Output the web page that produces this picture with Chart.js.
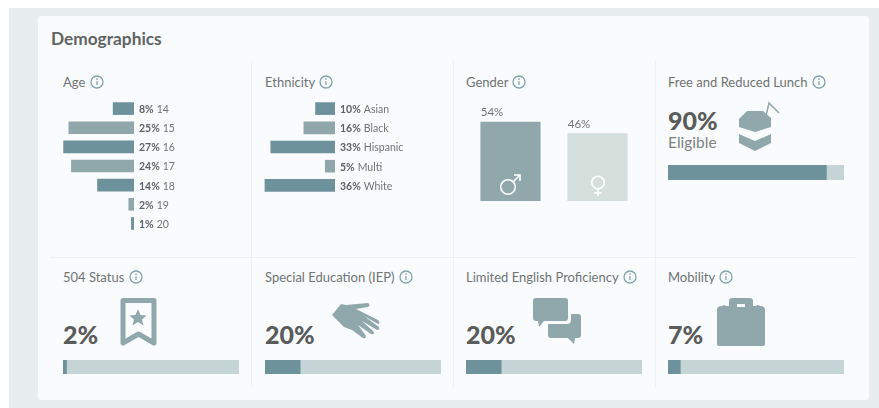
<!DOCTYPE html>
<html>
<head>
<meta charset="utf-8">
<script src="https://cdn.jsdelivr.net/npm/chart.js@4"></script>
<style>
html, body { margin: 0; padding: 0; background: #fff; }
body { width: 879px; height: 408px; overflow: hidden; position: relative; font-family: Lato, sans-serif; color: #6f7475; }
#bg { position: absolute; left: 9px; top: 8px; right: 0; bottom: 0; background: #e8edef; }
#card { position: absolute; left: 38px; top: 16px; width: 831px; height: 384px; background: #fafbfd; border-radius: 3px; }
.abs { position: absolute; }
.line { position: absolute; background: #eef0f3; }
h1 { position: absolute; left: 51px; top: 29px; margin: 0; font-size: 17.3px; line-height: 20px; font-weight: 700; color: #5f6364; }
.title { position: absolute; font-size: 13px; line-height: 16px; white-space: nowrap; }
.title svg { display: inline-block; vertical-align: -1.5px; margin-left: 1px; }
.big { position: absolute; font-size: 25px; line-height: 30px; font-weight: 900; color: #5a5c5c; }
.sub { position: absolute; font-size: 15.5px; line-height: 18px; color: #7d8283; }
canvas { position: absolute; }
</style>
</head>
<body>
<div id="bg"></div>
<div id="card"></div>
<div class="line" style="left:251px;top:61px;width:1px;height:326px"></div>
<div class="line" style="left:453px;top:61px;width:1px;height:326px"></div>
<div class="line" style="left:655px;top:61px;width:1px;height:326px"></div>
<div class="line" style="left:50px;top:257px;width:806px;height:1px"></div>
<h1>Demographics</h1>
<div id="titles"></div>

<canvas id="ageChart" style="left:52px;top:99px;width:198px;height:134px"></canvas>
<canvas id="ethnicityChart" style="left:254px;top:99px;width:198px;height:96px"></canvas>
<canvas id="genderChart" style="left:456px;top:100px;width:196px;height:101px"></canvas>
<canvas id="lunchChart" style="left:668px;top:165px;width:176px;height:15px"></canvas>
<canvas id="statusChart" style="left:63px;top:360px;width:176px;height:14px"></canvas>
<canvas id="iepChart" style="left:265px;top:360px;width:176px;height:14px"></canvas>
<canvas id="lepChart" style="left:466px;top:360px;width:176px;height:14px"></canvas>
<canvas id="mobilityChart" style="left:668px;top:360px;width:176px;height:14px"></canvas>

<div class="big" style="left:668px;top:105px">90%</div>
<div class="sub" style="left:668px;top:133px">Eligible</div>
<div class="big" style="left:63px;top:319px">2%</div>
<div class="big" style="left:265px;top:319px">20%</div>
<div class="big" style="left:466px;top:319px">20%</div>
<div class="big" style="left:668px;top:319px">7%</div>

<!-- gender glyphs -->
<svg class="abs" style="left:498px;top:172px" width="26" height="24" viewBox="0 0 26 24" fill="none" stroke="#fff" stroke-width="1.6">
  <circle cx="10" cy="15" r="7.3"/><path d="M15.5 9.5 L22 3 M16 3 H22 V9"/>
</svg>
<svg class="abs" style="left:589px;top:175px" width="18" height="24" viewBox="0 0 18 24" fill="none" stroke="#fff" stroke-width="1.6">
  <circle cx="9" cy="7.5" r="6.2"/><path d="M9 13.5 V21 M5 18 H13"/>
</svg>
<!-- juice box -->
<svg class="abs" style="left:735px;top:100px" width="46" height="52" viewBox="0 0 46 52" fill="#90a8ac">
  <path d="M12 11 H28 L36 18 V27 L20 32 L4 27 V19 Z"/>
  <path d="M4 34 L20 41 L36 34 V43 L20 51 L4 43 Z"/>
  <path d="M31 16 L34 3 L44 13" fill="none" stroke="#90a8ac" stroke-width="1.5"/>
</svg>
<!-- bookmark -->
<svg class="abs" style="left:120px;top:297px" width="37" height="50" viewBox="0 0 37 50">
  <path d="M3 3.5 H34 V46 L18.5 37 L3 46 Z" fill="none" stroke="#90a8ac" stroke-width="5" stroke-linejoin="round"/>
  <path d="M18 12 L20.5 18 L26.5 18.5 L22 22.5 L23.5 28.5 L18 25 L12.5 28.5 L14 22.5 L9.5 18.5 L15.5 18 Z" fill="#90a8ac"/>
</svg>
<!-- hand -->
<svg class="abs" style="left:332px;top:303px" width="50" height="38" viewBox="0 0 50 38" fill="#90a8ac">
  <path d="M0 12 L9 1 L14 2 L36 0 Q39 2 36 4 L24 6 L46 17 Q49 20 46 21 L32 13 L47 24 Q48 27 45 27 L30 18 L42 29 Q42 32 39 31 L26 22 L34 33 Q34 36 31 35 L20 27 L12 24 Z"/>
</svg>
<!-- speech bubbles -->
<svg class="abs" style="left:532px;top:297px" width="50" height="50" viewBox="0 0 50 50" fill="#90a8ac">
  <path d="M4 1 H33 Q36 1 36 4 V21 Q36 24 33 24 H12 L7 30 L6 24 H4 Q1 24 1 21 V4 Q1 1 4 1 Z"/>
  <path d="M39 17 H46 Q49 17 49 20 V38 Q49 41 46 41 H43 L42 47 L36 41 H19 Q16 41 16 38 V27 H35 Q39 27 39 23 Z"/>
</svg>
<!-- briefcase -->
<svg class="abs" style="left:717px;top:298px" width="48" height="49" viewBox="0 0 48 49" fill="#90a8ac">
  <path fill-rule="evenodd" d="M15 0 H33 Q36 0 36 3 V8 H39 Q41 6 43 8 Q48 8 48 12 V46 Q48 48 45 48 H3 Q0 48 0 46 V12 Q0 8 5 8 Q7 6 9 8 H12 V3 Q12 0 15 0 Z M20 6 V9 H28 V6 Z"/>
</svg>

<script>
// values
const ageLabels = ['14', '15', '16', '17', '18', '19', '20'];
const ageValues = [8, 25, 27, 24, 14, 2, 1];
const ethnicityLabels = ['Asian', 'Black', 'Hispanic', 'Multi', 'White'];
const ethnicityValues = [10, 16, 33, 5, 36];
const genderLabels = ['Male', 'Female'];
const genderValues = [54, 46];
const lunchValue = 90;
const statusValue = 2;
const iepValue = 20;
const lepValue = 20;
const mobilityValue = 7;

const DARK = '#6e929b';
const LIGHT = '#90a8ac';
const PALE = '#d5e0dc';
const TRACK = '#c5d5d5';
const TEXT = '#6f7475';
const FONT = 'Lato, sans-serif';

// panel titles with the little info icon
const panelTitles = [
    ['Age', 63, 74],
    ['Ethnicity', 265, 74],
    ['Gender', 466, 74],
    ['Free and Reduced Lunch', 668, 74],
    ['504 Status', 63, 269],
    ['Special Education (IEP)', 265, 269],
    ['Limited English Proficiency', 466, 269],
    ['Mobility', 668, 269]
];
const infoIcon = '<svg width="14" height="14" viewBox="0 0 14 14" fill="none" stroke="#7fa3ab" stroke-width="1.3"><circle cx="7" cy="7" r="6"/><path d="M7 6.2V10M7 3.6V5"/></svg>';
document.getElementById('titles').innerHTML = panelTitles.map(t =>
    `<div class="title" style="left:${t[1]}px;top:${t[2]}px">${t[0]} ${infoIcon}</div>`).join('');

// "8% 14" style labels to the right of each bar
const sideLabels = {
    id: 'sideLabels',
    afterDatasetsDraw(chart) {
        const ctx = chart.ctx;
        const meta = chart.getDatasetMeta(0);
        const x0 = chart.chartArea.right + 5;
        ctx.save();
        ctx.textBaseline = 'middle';
        meta.data.forEach((bar, i) => {
            const pct = chart.data.datasets[0].data[i] + '%';
            ctx.font = '700 10.5px ' + FONT;
            ctx.fillStyle = '#5f6364';
            ctx.fillText(pct, x0, bar.y + 1);
            const w = ctx.measureText(pct).width;
            ctx.font = '400 10.5px ' + FONT;
            ctx.fillStyle = TEXT;
            ctx.fillText(chart.data.labels[i], x0 + w + 3, bar.y + 1);
        });
        ctx.restore();
    }
};

const topLabels = {
    id: 'topLabels',
    afterDatasetsDraw(chart) {
        const ctx = chart.ctx;
        ctx.save();
        ctx.font = '400 11.5px ' + FONT;
        ctx.fillStyle = TEXT;
        ctx.textAlign = 'left';
        ctx.textBaseline = 'bottom';
        chart.getDatasetMeta(0).data.forEach((bar, i) => {
            ctx.fillText(chart.data.datasets[0].data[i] + '%', bar.x - bar.width / 2, bar.y - 4);
        });
        ctx.restore();
    }
};

const baseOptions = {
    responsive: false,
    animation: false,
    plugins: { legend: { display: false }, tooltip: { enabled: false } }
};

function setSize(id) {
    const el = document.getElementById(id);
    el.width = parseInt(el.style.width);
    el.height = parseInt(el.style.height);
    return el;
}

function sideBars(id, labels, values, max, pad) {
    new Chart(setSize(id), {
        type: 'bar',
        data: {
            labels: labels,
            datasets: [{
                data: values,
                backgroundColor: values.map((v, i) => i % 2 ? LIGHT : DARK),
                barThickness: 12
            }]
        },
        options: {
            ...baseOptions,
            indexAxis: 'y',
            layout: { padding: pad },
            scales: {
                x: { display: false, reverse: true, min: 0, max: max },
                y: { display: false }
            }
        },
        plugins: [sideLabels]
    });
}

function progress(id, value) {
    new Chart(setSize(id), {
        type: 'bar',
        data: {
            labels: [''],
            datasets: [
                { data: [value], backgroundColor: DARK, categoryPercentage: 1, barPercentage: 1 },
                { data: [100 - value], backgroundColor: TRACK, categoryPercentage: 1, barPercentage: 1 }
            ]
        },
        options: {
            ...baseOptions,
            indexAxis: 'y',
            scales: {
                x: { display: false, stacked: true, min: 0, max: 100 },
                y: { display: false, stacked: true }
            }
        }
    });
}

sideBars('ageChart', ageLabels, ageValues, 28, { left: 9, right: 116 });
sideBars('ethnicityChart', ethnicityLabels, ethnicityValues, 37, { left: 9, right: 117 });

new Chart(setSize('genderChart'), {
    type: 'bar',
    data: {
        labels: genderLabels,
        datasets: [{
            data: genderValues,
            backgroundColor: [LIGHT, PALE],
            barThickness: 59.5
        }]
    },
    options: {
        ...baseOptions,
        layout: { padding: { left: 11, right: 11 } },
        scales: {
            x: { display: false },
            y: { display: false, min: 0, max: 69 }
        }
    },
    plugins: [topLabels]
});

progress('lunchChart', lunchValue);
progress('statusChart', statusValue);
progress('iepChart', iepValue);
progress('lepChart', lepValue);
progress('mobilityChart', mobilityValue);
</script>
</body>
</html>
